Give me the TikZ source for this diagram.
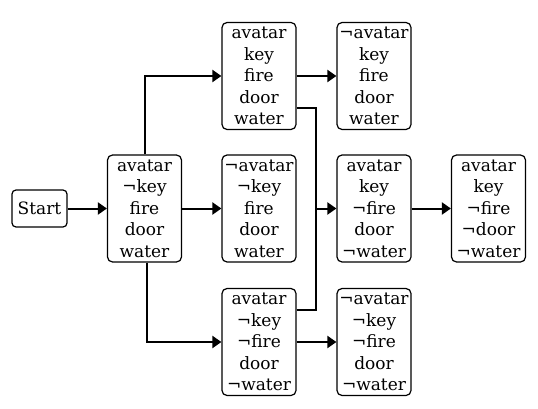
\documentclass[tikz,border=0pt]{standalone}
\usepackage{fontspec}
\setmainfont{DejaVu Serif}
\usetikzlibrary{arrows.meta}

\tikzset{
  state/.style={draw, rounded corners=5pt, line width=1.2pt, align=center,
    minimum width=74pt, minimum height=107pt, inner sep=0pt,
    font=\fontsize{17}{21.5}\selectfont},
  link/.style={line width=2pt, -{Triangle[width=12pt,length=9pt]}},
}

\begin{document}
\begin{tikzpicture}[x=1pt,y=1pt]
\useasboundingbox (0,0) rectangle (538,-409);
% start
\node[draw, rounded corners=4pt, line width=1.2pt, minimum width=55pt, minimum height=37pt,
  inner sep=0pt, font=\fontsize{17}{21.5}\selectfont] (start) at (39.5,-208.5) {Start};
% first column
\node[state] (s1) at (144.5,-208.5) {avatar\\¬key\\fire\\door\\water};
% second column
\node[state] (s2a) at (259,-76) {avatar\\key\\fire\\door\\water};
\node[state] (s2b) at (259,-208.5) {¬avatar\\¬key\\fire\\door\\water};
\node[state] (s2c) at (259,-342) {avatar\\¬key\\¬fire\\door\\¬water};
% third column
\node[state] (s3a) at (374,-76) {¬avatar\\key\\fire\\door\\water};
\node[state] (s3b) at (374,-208.5) {avatar\\key\\¬fire\\door\\¬water};
\node[state] (s3c) at (374,-342) {¬avatar\\¬key\\¬fire\\door\\¬water};
% fourth column
\node[state] (s4) at (488.5,-208.5) {avatar\\key\\¬fire\\¬door\\¬water};

\coordinate (merge) at (316,-208.5);

\draw[link] (start) -- (s1);
\draw[link] (s1.north) |- (s2a.west);
\draw[link] (s1) -- (s2b);
\draw[link] ([xshift=2pt]s1.south) |- (s2c.west);
\draw[link] (s2a) -- (s3a);
\draw[link] (s2c) -- (s3c);
\draw[line width=2pt] ([yshift=-32pt]s2a.east) -| (merge);
\draw[line width=2pt] ([yshift=32pt]s2c.east) -| (merge);
\draw[link] (merge) -- (s3b.west);
\draw[link] (s3b) -- (s4);
\end{tikzpicture}
\end{document}
